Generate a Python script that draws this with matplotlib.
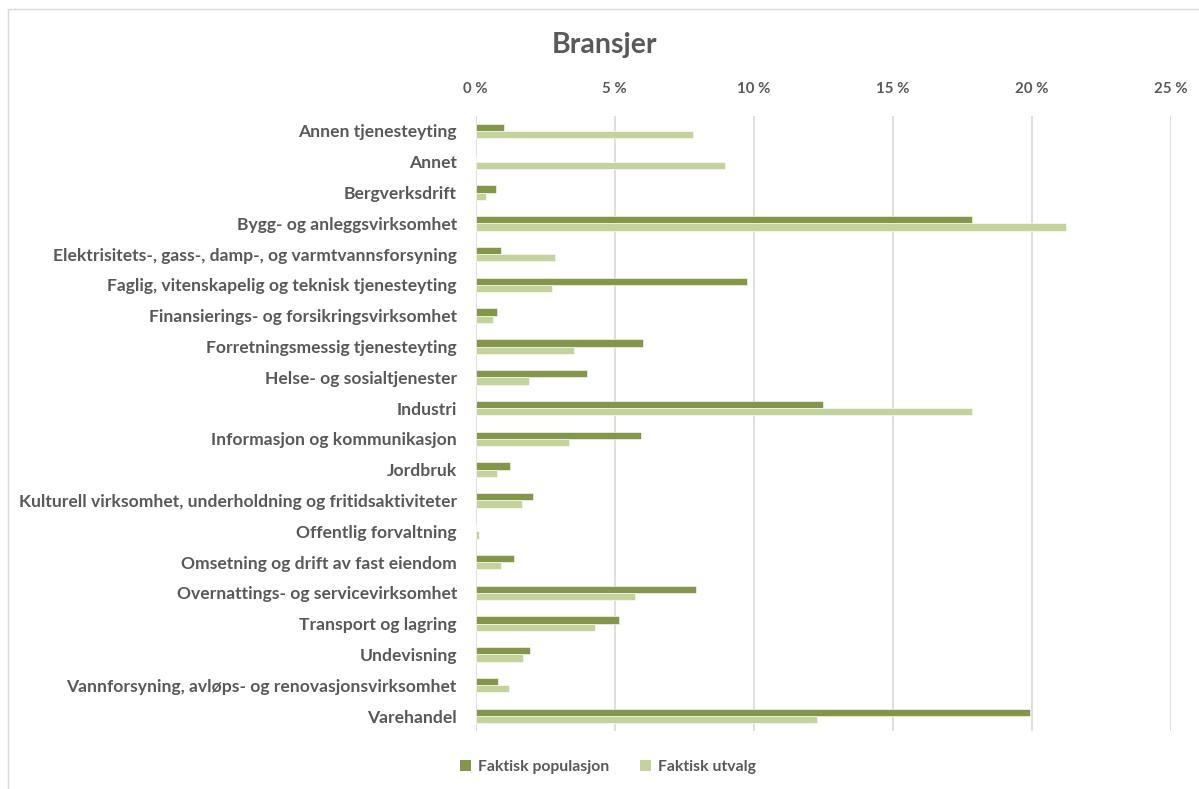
import matplotlib
matplotlib.use("Agg")
import matplotlib.pyplot as plt
from matplotlib.patches import Patch, Rectangle
from matplotlib.ticker import FuncFormatter
import numpy as np

plt.rcParams['font.family'] = ['Lato', 'DejaVu Sans']

categories = [
    "Annen tjenesteyting",
    "Annet",
    "Bergverksdrift",
    "Bygg- og anleggsvirksomhet",
    "Elektrisitets-, gass-, damp-, og varmtvannsforsyning",
    "Faglig, vitenskapelig og teknisk tjenesteyting",
    "Finansierings- og forsikringsvirksomhet",
    "Forretningsmessig tjenesteyting",
    "Helse- og sosialtjenester",
    "Industri",
    "Informasjon og kommunikasjon",
    "Jordbruk",
    "Kulturell virksomhet, underholdning og fritidsaktiviteter",
    "Offentlig forvaltning",
    "Omsetning og drift av fast eiendom",
    "Overnattings- og servicevirksomhet",
    "Transport og lagring",
    "Undevisning",
    "Vannforsyning, avløps- og renovasjonsvirksomhet",
    "Varehandel",
]

# Shares in percent
faktisk_populasjon = [1.03, 0.0, 0.74, 17.87, 0.91, 9.76, 0.78, 6.00, 4.02, 12.50,
                      5.94, 1.24, 2.05, 0.01, 1.36, 7.91, 5.14, 1.94, 0.79, 19.94]
faktisk_utvalg = [7.80, 8.97, 0.37, 21.24, 2.87, 2.73, 0.64, 3.52, 1.93, 17.85,
                  3.37, 0.78, 1.68, 0.12, 0.90, 5.73, 4.30, 1.69, 1.18, 12.26]

series_names = ["Faktisk populasjon", "Faktisk utvalg"]
x_ticks = [0, 5, 10, 15, 20, 25]

dark_green = "#84964A"
light_green = "#C4D39B"
text_gray = "#595959"
grid_gray = "#D9D9D9"

W, H = 1199, 789
fig = plt.figure(figsize=(W / 100, H / 100), dpi=100)

# Outer chart frame
fig.patches.append(Rectangle((8 / W, -0.01), 1.02, 1 - 9 / H + 0.01,
                             transform=fig.transFigure, fill=False,
                             edgecolor="#D9D9D9", linewidth=1.0))

ax_left, ax_right = 475.7, 1170.7
ax_top, ax_bottom = 115.6, 731.4
ax = fig.add_axes([ax_left / W, 1 - ax_bottom / H,
                   (ax_right - ax_left) / W, (ax_bottom - ax_top) / H])

y = np.arange(len(categories))
bar_h = 0.235
ax.barh(y - bar_h / 2, faktisk_populasjon, height=bar_h, color=dark_green,
        edgecolor="white", linewidth=0.4, label=series_names[0], zorder=3)
ax.barh(y + bar_h / 2, faktisk_utvalg, height=bar_h, color=light_green,
        edgecolor="white", linewidth=0.4, label=series_names[1], zorder=3)

ax.set_xlim(0, 25)
ax.set_ylim(len(categories) - 0.5, -0.5)
ax.set_xticks(x_ticks)
ax.xaxis.set_major_formatter(FuncFormatter(lambda v, p: f"{v:.0f} %"))
ax.xaxis.tick_top()
ax.tick_params(axis="x", length=0, pad=14, labelsize=10.8, labelcolor=text_gray)
ax.set_yticks(y)
ax.set_yticklabels(categories)
ax.tick_params(axis="y", length=0, pad=13.5, labelsize=12.6, labelcolor=text_gray)
for lbl in ax.get_xticklabels() + ax.get_yticklabels():
    lbl.set_fontweight("bold")

ax.grid(axis="x", color=grid_gray, linewidth=1.2, zorder=0)
ax.grid(axis="y", visible=False)
for s in ax.spines.values():
    s.set_visible(False)

fig.text(604 / W, 1 - 45 / H, "Bransjer", ha="center", va="center",
         fontsize=20.5, fontweight="bold", color=text_gray)

handles = [Patch(facecolor=dark_green), Patch(facecolor=light_green)]
fig.legend(handles, series_names, loc="center", bbox_to_anchor=(608 / W, 1 - 767 / H),
           ncol=2, frameon=False, handlelength=0.7, handleheight=0.7,
           handletextpad=0.4, columnspacing=2.0,
           prop={"size": 11.3, "weight": "bold"}, labelcolor=text_gray)

fig.savefig("out.png", dpi=100, facecolor="white")
